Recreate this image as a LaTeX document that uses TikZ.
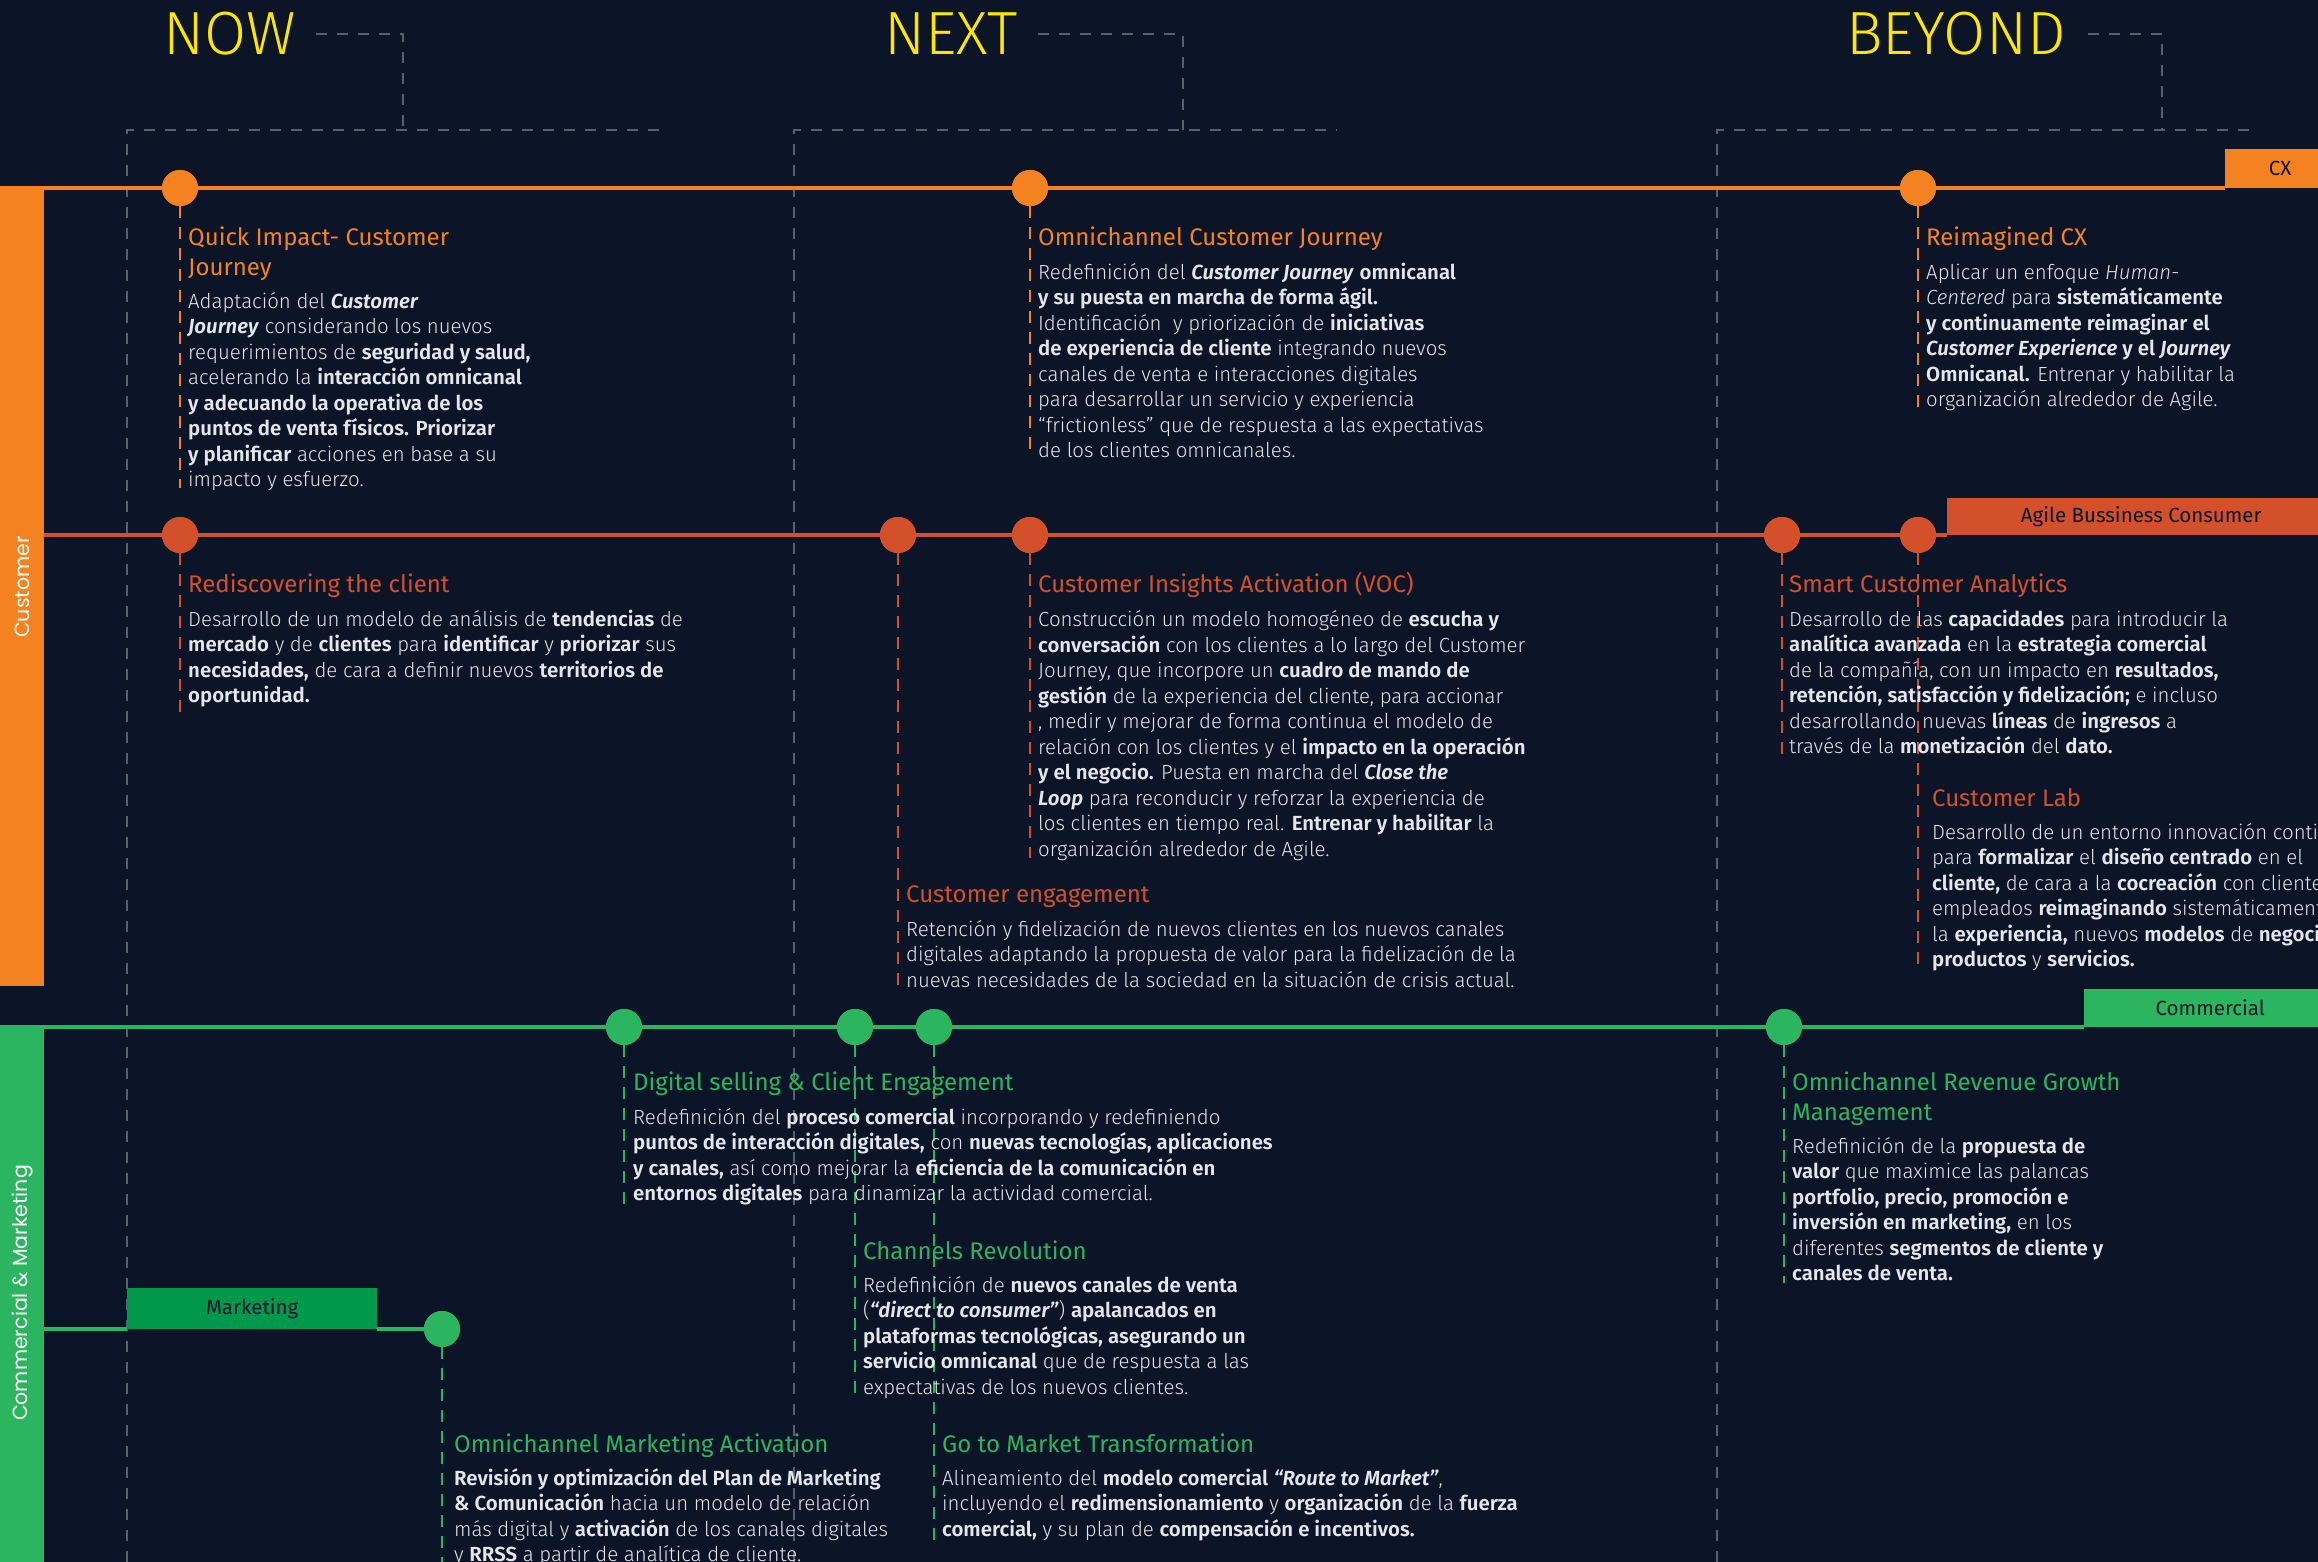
\documentclass[tikz,border=0pt]{standalone}
\usepackage{fontspec}
\setmainfont{Fira Sans Light}[BoldFont={Fira Sans SemiBold},ItalicFont={Fira Sans Light Italic},BoldItalicFont={Fira Sans SemiBold Italic}]
\newfontfamily\titlefont{Fira Sans}
\newfontfamily\barfont{Poppins}
\usetikzlibrary{positioning}

\definecolor{navy}{HTML}{0B1527}
\definecolor{gridgray}{HTML}{58606E}
\definecolor{cxorange}{HTML}{F58220}
\definecolor{agilered}{HTML}{D4502A}
\definecolor{comgreen}{HTML}{2BB55E}
\definecolor{mkgreen}{HTML}{00984B}
\definecolor{eyyellow}{HTML}{FFE600}
\definecolor{txt}{HTML}{E4E6EA}

\tikzset{
  heading/.style={anchor=base west, inner sep=0pt, text=eyyellow, font=\fontsize{61}{64}\selectfont},
  frame/.style={gridgray, line width=2.2pt, dash pattern=on 11pt off 10pt},
  dot/.style={circle, minimum size=36pt, inner sep=0pt},
  drop/.style={line width=2.6pt, dash pattern=on 12pt off 9pt},
  track/.style={line width=3.2pt},
  tag/.style={anchor=south west, inner sep=0pt, text=navy, font=\titlefont\fontsize{20.5}{24}\selectfont},
  bartext/.style={text=white, inner sep=0pt, font=\barfont\fontsize{20.5}{24}\selectfont},
  % base anchor of a multi-line node sits on its last line
  ttl/.style={anchor=base west, inner sep=0pt, align=left, font=\titlefont\fontsize{24}{30}\selectfont},
  body/.style={anchor=base west, inner sep=0pt, align=left, text=txt, font=\fontsize{20.4}{25.5}\selectfont}
}

\begin{document}
\begin{tikzpicture}[x=1pt, y=-1pt]
\path[use as bounding box] (0,0) rectangle (2318,1562);
\clip (0,0) rectangle (2318,1562);
\fill[navy] (0,0) rectangle (2318,1562);

% horizon headings and their frames
\node[heading] (hNow) at (163,55) {NOW};
\node[heading] (hNext) at (884,55) {NEXT};
\node[heading] (hBeyond) at (1846,55) {BEYOND};

\coordinate (nowTop) at (403,130);
\coordinate (nowTL) at (127,130);
\coordinate (nowTR) at (669,130);
\coordinate (nowBL) at (127,1562);
\coordinate (nextTop) at (1183,130);
\coordinate (nextTL) at (794,130);
\coordinate (nextTR) at (1337,130);
\coordinate (nextBL) at (794,1562);
\coordinate (beyondTop) at (2162,130);
\coordinate (beyondTL) at (1717,130);
\coordinate (beyondTR) at (2258,130);
\coordinate (beyondBL) at (1717,1562);

\draw[frame] ([xshift=20pt]hNow.east) -| (nowTop);
\draw[frame] ([xshift=20pt]hNext.east) -| (nextTop);
\draw[frame] ([xshift=22pt]hBeyond.east) -| (beyondTop);
\draw[frame] (nowBL) -- (nowTL) -- (nowTR);
\draw[frame] (nextBL) -- (nextTL) -- (nextTR);
\draw[frame] (beyondBL) -- (beyondTL) -- (beyondTR);

% tags
\node[tag, fill=cxorange, minimum width=110pt, minimum height=39pt] (cxTag) at (2225,188) {CX};
\node[tag, fill=agilered, minimum width=388pt, minimum height=37pt] (agTag) at (1947,535) {Agile Bussiness Consumer};
\node[tag, fill=comgreen, minimum width=252pt, minimum height=38pt] (cmTag) at (2084,1027) {Commercial};
\node[tag, fill=mkgreen, minimum width=250pt, minimum height=41pt] (mkTag) at (127,1329) {Marketing};

% tracks
\coordinate (cxStart) at (0,188);
\coordinate (agStart) at (44,535);
\coordinate (cmStart) at (0,1027);
\coordinate (mkStart) at (44,1329);

\node[dot, fill=cxorange] (cx1) at (180,188) {};
\node[dot, fill=cxorange] (cx2) at (1030,188) {};
\node[dot, fill=cxorange] (cx3) at (1918,188) {};
\node[dot, fill=agilered] (ag1) at (180,535) {};
\node[dot, fill=agilered] (ag2) at (898,535) {};
\node[dot, fill=agilered] (ag3) at (1030,535) {};
\node[dot, fill=agilered] (ag4) at (1782,535) {};
\node[dot, fill=agilered] (ag5) at (1918,535) {};
\node[dot, fill=comgreen] (cm1) at (624,1027) {};
\node[dot, fill=comgreen] (cm2) at (855,1027) {};
\node[dot, fill=comgreen] (cm3) at (934,1027) {};
\node[dot, fill=comgreen] (cm4) at (1784,1027) {};
\node[dot, fill=comgreen] (mk1) at (442,1329) {};

\draw[track, cxorange] (cxStart) -- (cx1) -- (cx2) -- (cx3) -- (cxTag.south west);
\draw[track, agilered] (agStart) -- (ag1) -- (ag2) -- (ag3) -- (ag4) -- (ag5) -- (agTag.south west);
\draw[track, comgreen] (cmStart) -- (cm1) -- (cm2) -- (cm3) -- (cm4) -- (cmTag.south west);
\draw[track, comgreen] (mkStart) -- (mkTag.south west);
\draw[track, comgreen] (mkTag.south east) -- (mk1);

% redraw dots over the tracks
\foreach \d/\c in {cx1/cxorange,cx2/cxorange,cx3/cxorange,ag1/agilered,ag2/agilered,ag3/agilered,ag4/agilered,ag5/agilered,cm1/comgreen,cm2/comgreen,cm3/comgreen,cm4/comgreen,mk1/comgreen}
  \fill[\c] (\d) circle (18pt);

% drop lines
\coordinate (cx1e) at (180,488);
\coordinate (cx2e) at (1030,457);
\coordinate (cx3e) at (1918,408);
\coordinate (ag1e) at (180,714);
\coordinate (ag2e) at (898,988);
\coordinate (ag3e) at (1030,858);
\coordinate (ag4e) at (1782,760);
\coordinate (ag5e) at (1918,967);
\coordinate (cm1e) at (624,1205);
\coordinate (cm2e) at (855,1397);
\coordinate (cm3e) at (934,1540);
\coordinate (cm4e) at (1784,1283);
\coordinate (mk1e) at (442,1562);

\draw[drop, cxorange] (cx1.south) -- (cx1e);
\draw[drop, cxorange] (cx2.south) -- (cx2e);
\draw[drop, cxorange] (cx3.south) -- (cx3e);
\draw[drop, agilered] (ag1.south) -- (ag1e);
\draw[drop, agilered] (ag2.south) -- (ag2e);
\draw[drop, agilered] (ag3.south) -- (ag3e);
\draw[drop, agilered] (ag4.south) -- (ag4e);
\draw[drop, agilered] (ag5.south) -- (ag5e);
\draw[drop, comgreen] (cm1.south) -- (cm1e);
\draw[drop, comgreen] (cm2.south) -- (cm2e);
\draw[drop, comgreen] (cm3.south) -- (cm3e);
\draw[drop, comgreen] (cm4.south) -- (cm4e);
\draw[drop, comgreen] (mk1.south) -- (mk1e);

% side bars
\fill[cxorange] (0,188) rectangle (44,986);
\fill[comgreen] (0,1027) rectangle (44,1562);
\node[bartext, rotate=90] (lblCust) at (22,587) {Customer};
\node[bartext, rotate=90] (lblCom) at (22,1293) {Commercial \& Marketing};

% CX row
\node[ttl, text=cxorange] (tQuick) at (188,276) {Quick Impact- Customer\\Journey};
\node[body] (bQuick) at (188,486.5) {Adaptación del \textbf{\textit{Customer}}\\
\textbf{\textit{Journey}} considerando los nuevos\\
requerimientos de \textbf{seguridad y salud,}\\
acelerando la \textbf{interacción omnicanal}\\
\textbf{y adecuando la operativa de los}\\
\textbf{puntos de venta físicos. Priorizar}\\
\textbf{y planificar} acciones en base a su\\
impacto y esfuerzo.};

\node[ttl, text=cxorange] (tOmniCJ) at (1038,246) {Omnichannel Customer Journey};
\node[body] (bOmniCJ) at (1038,457.5) {Redefinición del \textbf{\textit{Customer Journey}} \textbf{omnicanal}\\
\textbf{y su puesta en marcha de forma ágil.}\\
Identificación \ y priorización de \textbf{iniciativas}\\
\textbf{de experiencia de cliente} integrando nuevos\\
canales de venta e interacciones digitales\\
para desarrollar un servicio y experiencia\\
“frictionless” que de respuesta a las expectativas\\
de los clientes omnicanales.};

\node[ttl, text=cxorange] (tReimag) at (1926,246) {Reimagined CX};
\node[body] (bReimag) at (1926,406.5) {Aplicar un enfoque \textit{Human-}\\
\textit{Centered} para \textbf{sistemáticamente}\\
\textbf{y continuamente reimaginar el}\\
\textbf{\textit{Customer Experience} y el \textit{Journey}}\\
\textbf{Omnicanal.} Entrenar y habilitar la\\
organización alrededor de Agile.};

% Agile row
\node[ttl, text=agilered] (tRedisc) at (188,592) {Rediscovering the client};
\node[body] (bRedisc) at (188,702.5) {Desarrollo de un modelo de análisis de \textbf{tendencias} de\\
\textbf{mercado} y de \textbf{clientes} para \textbf{identificar} y \textbf{priorizar} sus\\
\textbf{necesidades,} de cara a definir nuevos \textbf{territorios de}\\
\textbf{oportunidad.}};

\node[ttl, text=agilered] (tVoc) at (1038,592) {Customer Insights Activation (VOC)};
\node[body] (bVoc) at (1038,856) {Construcción un modelo homogéneo de \textbf{escucha y}\\
\textbf{conversación} con los clientes a lo largo del Customer\\
Journey, que incorpore un \textbf{cuadro de mando de}\\
\textbf{gestión} de la experiencia del cliente, para accionar\\
, medir y mejorar de forma continua el modelo de\\
relación con los clientes y el \textbf{impacto en la operación}\\
\textbf{y el negocio.} Puesta en marcha del \textbf{\textit{Close the}}\\
\textbf{\textit{Loop}} para reconducir y reforzar la experiencia de\\
los clientes en tiempo real. \textbf{Entrenar y habilitar} la\\
organización alrededor de Agile.};

\node[ttl, text=agilered] (tEngage) at (906,902) {Customer engagement};
\node[body] (bEngage) at (906,987) {Retención y fidelización de nuevos clientes en los nuevos canales\\
digitales adaptando la propuesta de valor para la fidelización de la\\
nuevas necesidades de la sociedad en la situación de crisis actual.};

\node[ttl, text=agilered] (tSmart) at (1789,592) {Smart Customer Analytics};
\node[body] (bSmart) at (1789,753.5) {Desarrollo de las \textbf{capacidades} para introducir la\\
\textbf{analítica avanzada} en la \textbf{estrategia comercial}\\
de la compañía, con un impacto en \textbf{resultados,}\\
\textbf{retención, satisfacción y fidelización;} e incluso\\
desarrollando nuevas \textbf{líneas} de \textbf{ingresos} a\\
través de la \textbf{monetización} del \textbf{dato.}};

\node[ttl, text=agilered] (tLab) at (1932,806) {Customer Lab};
\node[body] (bLab) at (1932,966.5) {Desarrollo de un entorno innovación continuo\\
para \textbf{formalizar} el \textbf{diseño centrado} en el\\
\textbf{cliente,} de cara a la \textbf{cocreación} con clientes y\\
empleados \textbf{reimaginando} sistemáticamente\\
la \textbf{experiencia,} nuevos \textbf{modelos} de \textbf{negocio,}\\
\textbf{productos} y \textbf{servicios.}};

% Commercial row
\node[ttl, text=comgreen] (tDigital) at (633,1090) {Digital selling \& Client Engagement};
\node[body] (bDigital) at (633,1200.5) {Redefinición del \textbf{proceso comercial} incorporando y redefiniendo\\
\textbf{puntos de interacción digitales,} con \textbf{nuevas tecnologías, aplicaciones}\\
\textbf{y canales,} así como mejorar la \textbf{eficiencia de la comunicación en}\\
\textbf{entornos digitales} para dinamizar la actividad comercial.};

\node[ttl, text=comgreen] (tChannels) at (863,1259) {Channels Revolution};
\node[body] (bChannels) at (863,1394) {Redefinición de \textbf{nuevos canales de venta}\\
(\textbf{\textit{“direct to consumer”}}) \textbf{apalancados en}\\
\textbf{plataformas tecnológicas, asegurando un}\\
\textbf{servicio omnicanal} que de respuesta a las\\
expectativas de los nuevos clientes.};

\node[ttl, text=comgreen] (tGtm) at (942,1452) {Go to Market Transformation};
\node[body] (bGtm) at (942,1536) {Alineamiento del \textbf{modelo comercial} \textbf{\textit{“Route to Market”}},\\
incluyendo el \textbf{redimensionamiento} y \textbf{organización} de la \textbf{fuerza}\\
\textbf{comercial,} y su plan de \textbf{compensación e incentivos.}};

\node[ttl, text=comgreen] (tRgm) at (1792,1120) {Omnichannel Revenue Growth\\Management};
\node[body] (bRgm) at (1792,1280.5) {Redefinición de la \textbf{propuesta de}\\
\textbf{valor} que maximice las palancas\\
\textbf{portfolio, precio, promoción e}\\
\textbf{inversión en marketing,} en los\\
diferentes \textbf{segmentos de cliente y}\\
\textbf{canales de venta.}};

% Marketing row
\node[ttl, text=comgreen] (tMkt) at (454,1452) {Omnichannel Marketing Activation};
\node[body] (bMkt) at (454,1561.5) {\textbf{Revisión y optimización del Plan de Marketing}\\
\textbf{\& Comunicación} hacia un modelo de relación\\
más digital y \textbf{activación} de los canales digitales\\
y \textbf{RRSS} a partir de analítica de cliente.};
\end{tikzpicture}
\end{document}
